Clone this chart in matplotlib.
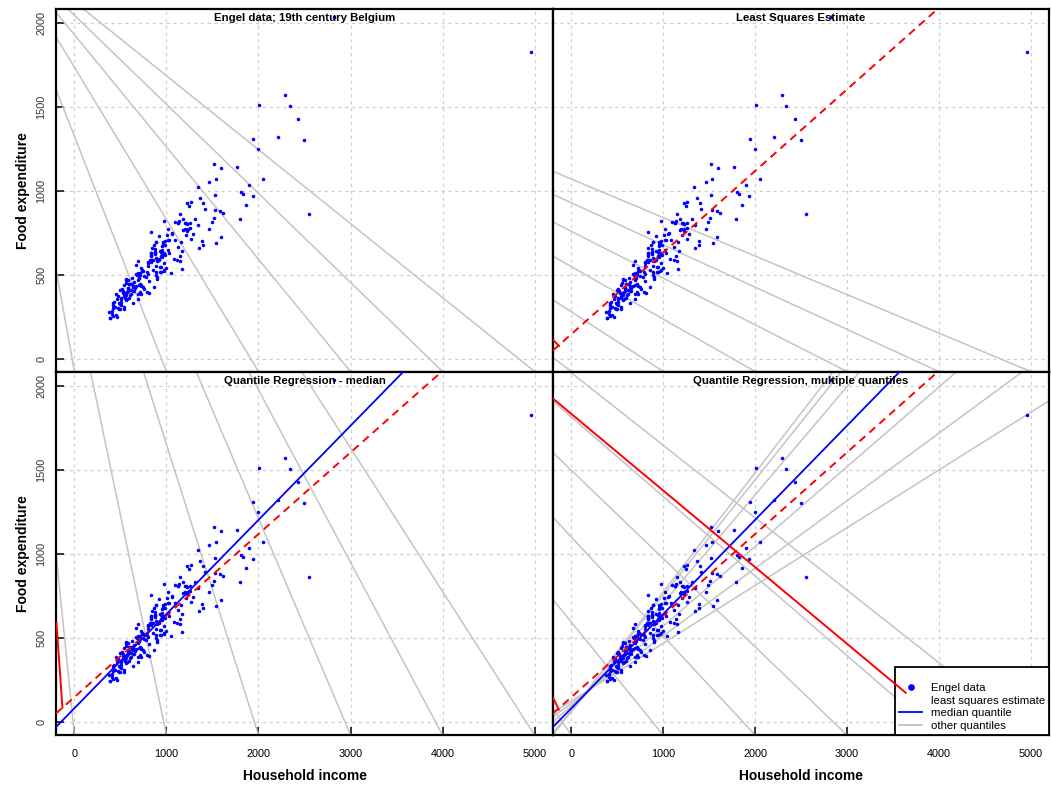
import matplotlib
matplotlib.use("Agg")
import matplotlib.pyplot as plt
from matplotlib.lines import Line2D

plt.rcParams['font.family'] = ['Liberation Sans', 'DejaVu Sans']

# ---------------- data (Engel food expenditure data) ----------------
income = [420.1577, 541.4117, 901.1575, 639.0802, 750.8756, 945.7989, 829.3979, 979.1648, 1309.8789, 1492.3987,
          502.8390, 616.7168, 790.9225, 555.8786, 713.4412, 838.7561, 535.0766, 596.4408, 924.5619, 487.7583,
          692.6397, 997.8770, 506.9995, 654.1587, 933.9193, 433.6813, 587.5962, 896.4746, 454.4782, 584.9989,
          800.7990, 502.4369, 713.5197, 906.0006, 880.5969, 796.8289, 854.8791, 1167.3716, 523.8000, 670.7792,
          377.0584, 851.5430, 1121.0937, 625.5179, 805.5377, 558.5812, 884.4005, 1257.4989, 2051.1789, 1466.3330,
          730.0989, 2432.3910, 940.9218, 1177.8547, 1222.5939, 1519.5811, 687.6638, 953.1192, 953.1192, 953.1192,
          939.0418, 1283.4025, 1511.5789, 1342.5821, 511.7980, 689.7988, 1532.3074, 1056.0808, 387.3195, 387.3195,
          410.9987, 499.7510, 832.7554, 614.9986, 887.4658, 1595.1611, 1807.9520, 541.2006, 1057.6767, 800.7990,
          1245.6964, 1201.0002, 634.4002, 956.2315, 1148.6010, 1768.8236, 2822.5330, 922.3548, 2293.1920, 627.4726,
          889.9798, 1162.2000, 1197.0794, 530.7972, 1142.1670, 1088.0039, 484.6612, 1536.0201, 678.8974, 671.8802,
          690.4683, 860.6948, 873.3095, 894.4598, 1148.6470, 926.8762, 839.0414, 829.4974, 1264.0043, 1937.9771,
          698.8317, 920.4199, 1897.5711, 891.6824, 889.6784, 1221.4818, 544.5991, 1031.4491, 1462.9497, 830.4353,
          975.0415, 1337.9983, 867.6427, 725.7459, 989.0056, 1525.0005, 672.1960, 923.3977, 472.3215, 590.7601,
          831.7983, 1139.4945, 507.5169, 576.1972, 696.5991, 650.8180, 949.5802, 497.1193, 570.1674, 724.7306,
          408.3399, 638.6713, 1225.7890, 715.3701, 800.4708, 975.5974, 1613.7565, 608.5019, 958.6634, 835.9426,
          1024.8177, 1006.4353, 726.0000, 494.4174, 776.5958, 415.4407, 581.3599, 643.3571, 2551.6615, 1795.3226,
          1165.7734, 815.6212, 1264.2066, 1095.4056, 447.4479, 1178.9742, 975.8023, 1017.8522, 423.8798, 558.7767,
          943.2487, 1348.3002, 2340.6174, 587.1792, 1540.9741, 1115.8481, 1044.6843, 1389.7929, 2497.7860, 1585.3809,
          1862.0438, 2008.8546, 697.3099, 571.2517, 598.3465, 461.0977, 977.1107, 883.9849, 718.3594, 543.8971,
          1587.3480, 4957.8130, 969.6838, 419.9980, 561.9990, 689.5988, 1398.5203, 820.8168, 875.1716, 1392.4499,
          1256.3174, 1362.8590, 1999.2552, 1209.4730, 1125.0356, 1827.4010, 1014.1540, 880.3944, 873.7375, 951.4432,
          473.0022, 601.0030, 713.9979, 829.2984, 959.7953, 1212.9613, 958.8743, 1129.4431, 1943.0419, 539.6388,
          463.5990, 562.6400, 736.7584, 1415.4461, 2208.7897, 636.0009, 759.4010, 1078.8382, 748.6413, 987.6417,
          788.0961, 1020.0225, 1230.9235, 440.5174, 743.0772]
foodexp = [255.8394, 310.9587, 485.6800, 402.9974, 495.5608, 633.7978, 630.7566, 700.4409, 830.9586, 815.3602,
           338.0014, 412.3613, 520.0006, 452.4015, 512.7201, 658.8395, 392.5995, 443.5586, 640.1164, 333.8394,
           466.9583, 543.3969, 317.7198, 424.3209, 518.9617, 338.0014, 419.6412, 476.3200, 386.3602, 423.2783,
           503.3572, 354.6389, 497.3182, 588.5195, 654.5971, 550.7274, 528.3770, 640.4813, 401.3204, 435.9990,
           276.5606, 588.3488, 664.1978, 444.8602, 462.8995, 377.7792, 553.1504, 810.8962, 1067.9541, 1049.8788,
           522.7012, 1424.8047, 517.9196, 830.9586, 925.5795, 1162.0024, 383.4580, 621.1173, 621.1173, 621.1173,
           548.6002, 745.2353, 837.8005, 795.3402, 418.5976, 508.7974, 883.2780, 742.5276, 242.3202, 242.3202,
           266.0010, 408.4992, 614.7588, 385.3184, 515.6200, 1138.1620, 993.9630, 299.1993, 750.3202, 572.0807,
           907.3969, 811.5776, 427.7975, 649.9985, 860.6002, 1143.4211, 2032.6792, 590.6183, 1570.3911, 483.4800,
           600.4804, 696.2021, 774.7962, 390.5984, 612.5619, 708.7622, 296.9192, 1071.4627, 496.5976, 503.3974,
           357.6411, 430.3376, 624.6990, 582.5413, 580.2215, 543.8807, 588.6372, 627.9999, 712.1012, 968.3949,
           482.5816, 593.1694, 1033.5658, 693.6795, 693.6795, 761.2791, 361.3981, 628.4522, 771.4486, 757.1187,
           821.5970, 1022.3202, 679.4407, 538.7491, 679.9981, 977.0033, 561.2015, 728.3997, 372.3186, 361.5210,
           620.8006, 819.9964, 360.8780, 395.7608, 442.0001, 404.0384, 670.7993, 297.5702, 353.4882, 383.9376,
           284.8008, 431.1000, 801.3518, 448.4513, 577.9111, 570.5210, 865.3205, 444.5578, 680.4198, 576.2779,
           708.4787, 734.2356, 433.0010, 327.4188, 485.5198, 305.4390, 468.0008, 459.8177, 863.9199, 831.4407,
           534.7610, 392.0502, 934.9752, 813.3081, 263.7100, 769.0838, 630.5863, 645.9874, 319.5584, 348.4518,
           614.5068, 662.0096, 1504.3708, 406.2180, 692.1689, 588.1371, 511.2609, 700.5600, 1301.1451, 879.0660,
           912.8851, 1509.7812, 484.0605, 399.6703, 444.1001, 248.8101, 527.8014, 500.6313, 436.8107, 374.7990,
           726.3921, 1827.2000, 523.4911, 334.9998, 473.2009, 581.2029, 929.7540, 591.1974, 637.5483, 674.9509,
           776.7589, 959.5170, 1250.9643, 737.8201, 810.6772, 983.0009, 708.8968, 633.1200, 631.7982, 608.6419,
           300.9999, 377.9984, 397.0015, 588.5195, 681.7616, 807.3603, 696.8011, 811.1962, 1305.7201, 442.0001,
           353.6013, 468.0008, 526.7573, 890.2390, 1318.8033, 331.0005, 416.4015, 596.8406, 429.0399, 619.6408,
           400.7990, 775.0209, 772.7611, 306.5191, 522.6019]

# fitted lines (intercept, slope)
ls_intercept, ls_slope = 147.48, 0.4852
med_intercept, med_slope = 81.48, 0.5602
other_taus = [0.05, 0.10, 0.25, 0.75, 0.90, 0.95]
other_intercepts = [124.88, 110.14, 95.48, 62.40, 67.35, 64.10]
other_slopes = [0.3434, 0.4018, 0.4741, 0.6440, 0.6863, 0.7091]

# gray background line families per panel (intercept, slope)
fan1_int = [-75, 1325, 1735, 1929, 2045, 2125]
fan1_slope = [-3.05, -1.40, -0.905, -0.668, -0.530, -0.440]
fan2_int = [-75, 280, 549, 759, 929, 1070]
fan2_slope = [-0.412, -0.355, -0.312, -0.278, -0.251, -0.229]
fan3_int = [-78, 2542, 3382, 3789, 4030, 4192]
fan3_slope = [-5.41, -2.62, -1.73, -1.289, -1.027, -0.854]
fan4_int = [-78, 593, 1100, 1497, 1814, 2077]
fan4_slope = [-0.780, -0.671, -0.589, -0.525, -0.473, -0.431]

# stray red solid segments
red2_x, red2_y = [-200, -134], [113, 77]
red3_x, red3_y = [-195, -130], [588, 85]
red4a_x, red4a_y = [-199, -137], [143, 73]
red4b_x, red4b_y = [-199, 3641], [1923, 173]

x_ticks = [0, 1000, 2000, 3000, 4000, 5000]
y_ticks = [0, 500, 1000, 1500, 2000]
xlim = (-200, 5200)
ylim = (-78, 2082)
titles = ["Engel data; 19th century Belgium", "Least Squares Estimate",
          "Quantile Regression - median", "Quantile Regression, multiple quantiles"]
legend_labels = ["Engel data", "least squares estimate", "median quantile", "other quantiles"]

# ---------------- figure ----------------
W, H = 1051, 785
fig = plt.figure(figsize=(W / 100, H / 100), dpi=100)

def px_axes(x0, y0, x1, y1):
    return fig.add_axes([x0 / W, 1 - y1 / H, (x1 - x0) / W, (y1 - y0) / H])

ax1 = px_axes(56, 9, 553, 372)
ax2 = px_axes(553, 9, 1049, 372)
ax3 = px_axes(56, 372, 553, 735)
ax4 = px_axes(553, 372, 1049, 735)
axes = [ax1, ax2, ax3, ax4]

GRAY = '#c4c4c4'
BLUE = '#0000ff'
RED = '#ff0000'

for i, ax in enumerate(axes):
    ax.set_xlim(*xlim)
    ax.set_ylim(*ylim)
    ax.set_xticks(x_ticks)
    ax.set_yticks(y_ticks)
    ax.grid(True, color='#cfcfcf', linestyle=(0, (2.5, 3)), linewidth=0.9, zorder=0)
    ax.set_axisbelow(True)
    for sp in ax.spines.values():
        sp.set_linewidth(1.6)
        sp.set_color('black')
    left = i in (0, 2)
    bottom = i in (2, 3)
    ax.tick_params(axis='x', direction='in', length=5.5 if bottom else 0, width=1.1,
                   labelbottom=bottom, labelsize=7.8, pad=10, colors='black')
    ax.tick_params(axis='y', direction='in', length=5.5 if left else 0, width=1.1,
                   labelleft=left, labelsize=7.8, pad=7, labelrotation=90, colors='black')
    if left:
        for lab in ax.get_yticklabels():
            lab.set_va('center')
            lab.set_color('#333333')
    ax.text(0.5, 0.975, titles[i], transform=ax.transAxes, ha='center', va='center',
            fontsize=8.2, fontweight='bold', zorder=7)

fans = [(fan1_int, fan1_slope), (fan2_int, fan2_slope), (fan3_int, fan3_slope), (fan4_int, fan4_slope)]
for ax, (ints, slopes) in zip(axes, fans):
    for b, m in zip(ints, slopes):
        ax.axline((0, b), slope=m, color=GRAY, lw=1.1, zorder=1)

# quantile lines (panel 4)
for b, m in zip(other_intercepts, other_slopes):
    ax4.axline((0, b), slope=m, color=GRAY, lw=1.1, zorder=1)

# points
for ax in axes:
    ax.scatter(income, foodexp, s=6.5, color=BLUE, linewidths=0, zorder=3)

# least squares (dashed red)
for ax in (ax2, ax3, ax4):
    ax.axline((0, ls_intercept), slope=ls_slope, color=RED, lw=1.4,
              linestyle=(0, (4, 2.8)), zorder=4)
# median (solid blue)
for ax in (ax3, ax4):
    ax.axline((0, med_intercept), slope=med_slope, color=BLUE, lw=1.3, zorder=4)

# stray red solid segments
ax2.plot(red2_x, red2_y, color=RED, lw=1.4, zorder=4)
ax3.plot(red3_x, red3_y, color=RED, lw=1.4, zorder=4)
ax4.plot(red4a_x, red4a_y, color=RED, lw=1.4, zorder=4)

# legend
handles = [Line2D([], [], color=BLUE, marker='o', markersize=3.8, linestyle='none'),
           Line2D([], [], color='none', linestyle='none'),
           Line2D([], [], color=BLUE, lw=1.3),
           Line2D([], [], color=GRAY, lw=1.3)]
leg = ax4.legend(handles, legend_labels, loc='lower right', borderaxespad=0, frameon=True,
                 fancybox=False, edgecolor='black', framealpha=1, fontsize=8.2,
                 handlelength=1.95, handletextpad=0.8, borderpad=0.35,
                 labelspacing=0.24, title=' ', title_fontsize=6.5)
leg.get_frame().set_linewidth(1.3)
leg.set_zorder(5)

ax4.plot(red4b_x, red4b_y, color=RED, lw=1.4, zorder=6)

# axis titles
for cx in (305, 801):
    fig.text(cx / W, 1 - 776 / H, "Household income", ha='center', va='center',
             fontsize=10, fontweight='bold')
for cy in (190.5, 553.5):
    fig.text(23 / W, 1 - cy / H, "Food expenditure", ha='center', va='center',
             rotation=90, fontsize=10, fontweight='bold')

fig.savefig("out.png", dpi=100)
